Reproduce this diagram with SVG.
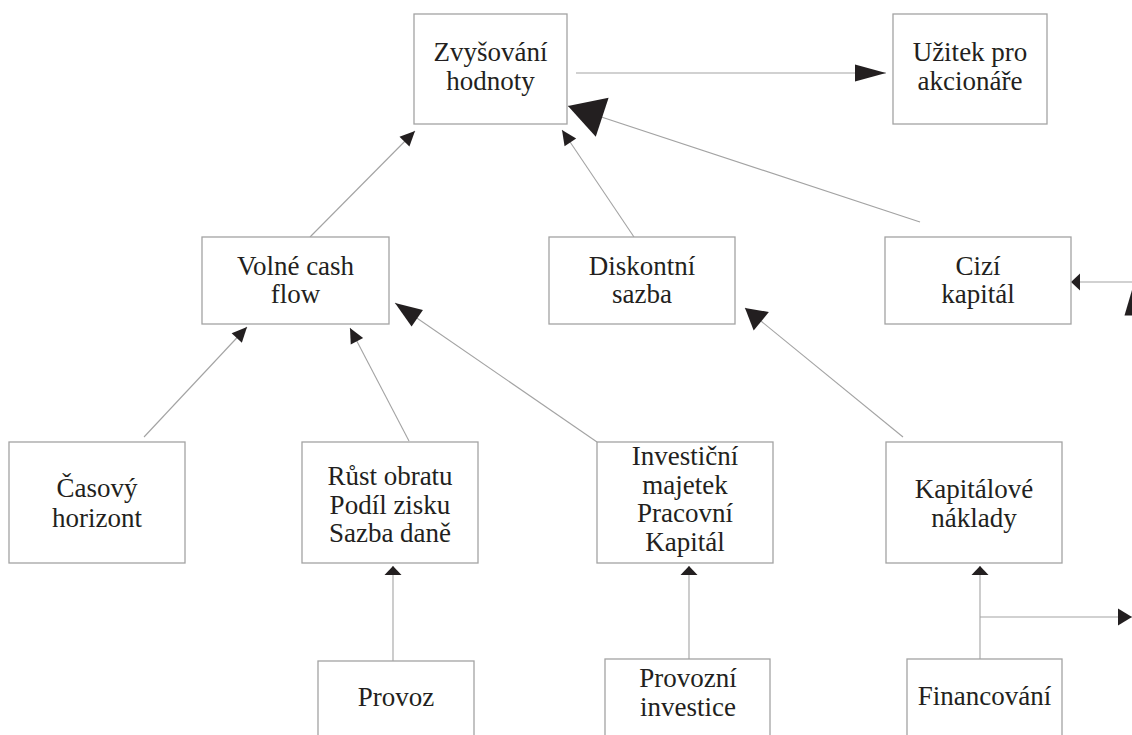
<svg xmlns="http://www.w3.org/2000/svg" width="1132" height="735" viewBox="0 0 1132 735">
<style>
  .box { fill: #ffffff; stroke: #a3a3a3; stroke-width: 1.3; }
  .lbl { font-family: "Liberation Serif", "Times New Roman", serif; font-size: 27px; fill: #231f20; text-anchor: middle; }
  .con { stroke: #a3a3a3; stroke-width: 1.1; fill: none; }
  .head { fill: #231f20; }
</style>
<defs>
  <marker id="ah-s" markerUnits="userSpaceOnUse" orient="auto" overflow="visible" markerWidth="40" markerHeight="40" refX="0" refY="0"><path class="head" d="M0,0 L-15,-7 L-15,7z"/></marker>
  <marker id="ah-m" markerUnits="userSpaceOnUse" orient="auto" overflow="visible" markerWidth="40" markerHeight="40" refX="0" refY="0"><path class="head" d="M0,0 L-27,-10 L-27,10z"/></marker>
  <marker id="ah-kd" markerUnits="userSpaceOnUse" orient="auto" overflow="visible" markerWidth="40" markerHeight="40" refX="0" refY="0"><path class="head" d="M0,0 L-21,-12 L-21,12z"/></marker>
  <marker id="ah-l" markerUnits="userSpaceOnUse" orient="auto" overflow="visible" markerWidth="60" markerHeight="60" refX="0" refY="0"><path class="head" d="M0,0 L-36,-20.5 L-36,20.5z"/></marker>
  <marker id="ah-h" markerUnits="userSpaceOnUse" orient="auto" overflow="visible" markerWidth="40" markerHeight="40" refX="0" refY="0"><path class="head" d="M0,0 L-31,-8.5 L-31,8.5z"/></marker>
  <marker id="ah-v" markerUnits="userSpaceOnUse" orient="auto" overflow="visible" markerWidth="40" markerHeight="40" refX="0" refY="0"><path class="head" d="M0,0 L-9,-8.5 L-9,8.5z"/></marker>
  <marker id="ah-r" markerUnits="userSpaceOnUse" orient="auto" overflow="visible" markerWidth="40" markerHeight="40" refX="0" refY="0"><path class="head" d="M0,0 L-14,-8.5 L-14,8.5z"/></marker>
</defs>
<rect width="1132" height="735" fill="#ffffff"/>

<g id="connectors">
  <line class="con" x1="576" y1="73" x2="886" y2="73" marker-end="url(#ah-h)"/>
  <line class="con" x1="920" y1="222" x2="568" y2="106" marker-end="url(#ah-l)"/>
  <line class="con" x1="310" y1="237" x2="415" y2="131" marker-end="url(#ah-s)"/>
  <line class="con" x1="634" y1="237" x2="562" y2="130" marker-end="url(#ah-s)"/>
  <line class="con" x1="144" y1="437" x2="247" y2="327" marker-end="url(#ah-s)"/>
  <line class="con" x1="409" y1="441" x2="350" y2="328" marker-end="url(#ah-s)"/>
  <line class="con" x1="597" y1="442" x2="395" y2="303" marker-end="url(#ah-m)"/>
  <line class="con" x1="903" y1="437" x2="745" y2="308" marker-end="url(#ah-kd)"/>
  <line class="con" x1="1132" y1="282" x2="1071" y2="282" marker-end="url(#ah-v)"/>
  <line class="con" x1="393" y1="661" x2="393" y2="566" marker-end="url(#ah-v)"/>
  <line class="con" x1="689" y1="659" x2="689" y2="566" marker-end="url(#ah-v)"/>
  <line class="con" x1="980" y1="659" x2="980" y2="566" marker-end="url(#ah-v)"/>
  <line class="con" x1="980" y1="617" x2="1132" y2="617" marker-end="url(#ah-r)"/>
  <polygon class="head" points="1124.5,315.5 1132,290 1132,315.5"/>
</g>

<g id="zvysovani-hodnoty">
  <rect class="box" x="414" y="14" width="153" height="110"/>
  <text class="lbl" x="490.5" y="61">Zvyšování</text>
  <text class="lbl" x="490.5" y="90">hodnoty</text>
</g>
<g id="uzitek-pro-akcionare">
  <rect class="box" x="893" y="14" width="154" height="110"/>
  <text class="lbl" x="970" y="61">Užitek pro</text>
  <text class="lbl" x="970" y="90">akcionáře</text>
</g>
<g id="volne-cash-flow">
  <rect class="box" x="202" y="237" width="187" height="87"/>
  <text class="lbl" x="295.5" y="275">Volné cash</text>
  <text class="lbl" x="295.5" y="303">flow</text>
</g>
<g id="diskontni-sazba">
  <rect class="box" x="549" y="237" width="186" height="87"/>
  <text class="lbl" x="642" y="275">Diskontní</text>
  <text class="lbl" x="642" y="303">sazba</text>
</g>
<g id="cizi-kapital">
  <rect class="box" x="885" y="237" width="186" height="87"/>
  <text class="lbl" x="978" y="275">Cizí</text>
  <text class="lbl" x="978" y="303">kapitál</text>
</g>
<g id="casovy-horizont">
  <rect class="box" x="9" y="442" width="176" height="121"/>
  <text class="lbl" x="97" y="497">Časový</text>
  <text class="lbl" x="97" y="526.5">horizont</text>
</g>
<g id="rust-obratu">
  <rect class="box" x="302" y="442" width="176" height="121"/>
  <text class="lbl" x="390" y="485">Růst obratu</text>
  <text class="lbl" x="390" y="513.5">Podíl zisku</text>
  <text class="lbl" x="390" y="542">Sazba daně</text>
</g>
<g id="investicni-majetek">
  <rect class="box" x="597" y="442" width="176" height="121"/>
  <text class="lbl" x="685" y="465">Investiční</text>
  <text class="lbl" x="685" y="493.5">majetek</text>
  <text class="lbl" x="685" y="522">Pracovní</text>
  <text class="lbl" x="685" y="550.5">Kapitál</text>
</g>
<g id="kapitalove-naklady">
  <rect class="box" x="886" y="442" width="176" height="121"/>
  <text class="lbl" x="974" y="498">Kapitálové</text>
  <text class="lbl" x="974" y="527">náklady</text>
</g>
<g id="provoz">
  <rect class="box" x="318" y="661" width="156" height="100"/>
  <text class="lbl" x="396" y="706">Provoz</text>
</g>
<g id="provozni-investice">
  <rect class="box" x="605" y="659" width="165" height="100"/>
  <text class="lbl" x="688" y="686.5">Provozní</text>
  <text class="lbl" x="688" y="715.5">investice</text>
</g>
<g id="financovani">
  <rect class="box" x="907" y="659" width="155" height="100"/>
  <text class="lbl" x="984.5" y="705">Financování</text>
</g>
</svg>
